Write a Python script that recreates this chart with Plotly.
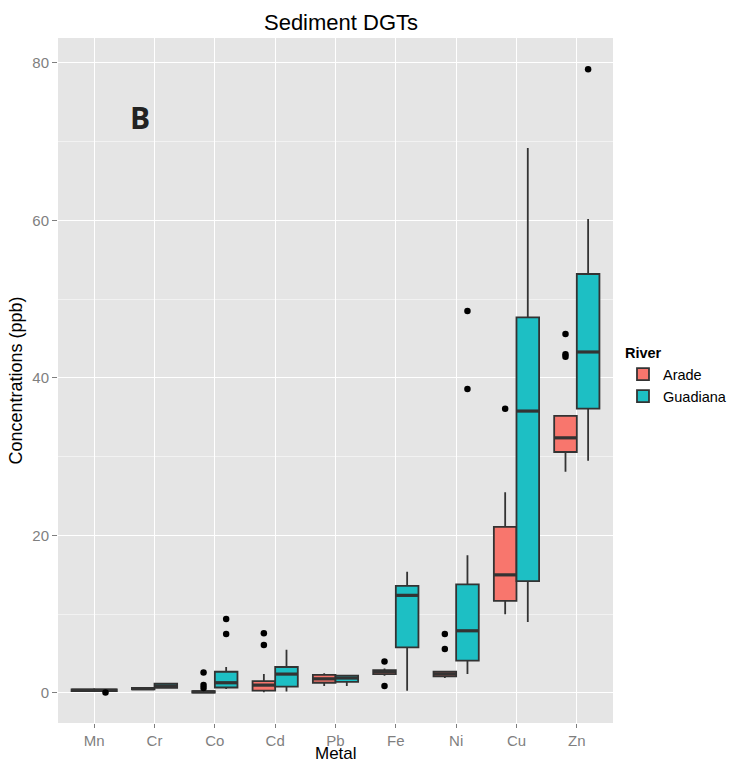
import plotly.graph_objects as go

metals = ["Mn", "Cr", "Co", "Cd", "Pb", "Fe", "Ni", "Cu", "Zn"]

# Arade box statistics
arade_lf = [0.2, 0.35, 0.0, 0.1, 0.9, 2.2, 1.9, 10.0, 28.1]
arade_q1 = [0.25, 0.45, 0.05, 0.3, 1.3, 2.4, 2.1, 11.7, 30.6]
arade_med = [0.35, 0.55, 0.15, 1.0, 1.8, 2.7, 2.4, 15.0, 32.4]
arade_q3 = [0.45, 0.65, 0.25, 1.5, 2.3, 2.9, 2.7, 21.1, 35.2]
arade_uf = [0.5, 0.7, 0.3, 2.4, 2.5, 3.1, 2.8, 25.5, 35.3]
arade_out_metal = ["Co", "Co", "Co", "Cd", "Cd", "Fe", "Fe", "Ni", "Ni", "Cu", "Zn", "Zn", "Zn"]
arade_out_val = [2.6, 1.0, 0.65, 7.6, 6.1, 4.0, 0.9, 7.5, 5.6, 36.1, 45.6, 43.0, 42.7]

# Guadiana box statistics
guad_lf = [0.2, 0.6, 0.5, 0.2, 0.9, 0.3, 2.4, 9.0, 29.5]
guad_q1 = [0.25, 0.65, 0.7, 0.8, 1.4, 5.8, 4.1, 14.2, 36.1]
guad_med = [0.35, 0.9, 1.3, 2.4, 1.9, 12.4, 7.9, 35.8, 43.3]
guad_q3 = [0.45, 1.2, 2.7, 3.3, 2.2, 13.6, 13.8, 47.7, 53.2]
guad_uf = [0.5, 1.3, 3.3, 5.5, 2.3, 15.4, 17.5, 69.2, 60.2]
guad_out_metal = ["Mn", "Co", "Co", "Ni", "Ni", "Zn"]
guad_out_val = [0.05, 9.4, 7.5, 48.5, 38.6, 79.2]

y_ticks = [0, 20, 40, 60, 80]

dodge = 0.1875
bw = 0.375
pos = {m: i + 1 for i, m in enumerate(metals)}

fig = go.Figure()

series = [
    ("Arade", "#F8766D", -dodge, arade_lf, arade_q1, arade_med, arade_q3, arade_uf,
     arade_out_metal, arade_out_val),
    ("Guadiana", "#1DBFC4", dodge, guad_lf, guad_q1, guad_med, guad_q3, guad_uf,
     guad_out_metal, guad_out_val),
]

for name, col, off, lf, q1, med, q3, uf, om, ov in series:
    fig.add_trace(go.Box(
        name=name,
        x=[pos[m] + off for m in metals],
        lowerfence=lf, q1=q1, median=med, q3=q3, upperfence=uf,
        width=bw,
        fillcolor=col,
        line=dict(color="#333333", width=1.8),
        whiskerwidth=0,
        boxpoints=False,
        hoverinfo="skip",
    ))

# thicker median bars (ggplot style)
for name, col, off, lf, q1, med, q3, uf, om, ov in series:
    mx, my = [], []
    for m, v in zip(metals, med):
        c = pos[m] + off
        mx += [c - bw / 2, c + bw / 2, None]
        my += [v, v, None]
    fig.add_trace(go.Scatter(
        x=mx, y=my, mode="lines",
        line=dict(color="#333333", width=3.2),
        showlegend=False, hoverinfo="skip",
    ))

for name, col, off, lf, q1, med, q3, uf, om, ov in series:
    fig.add_trace(go.Scatter(
        x=[pos[m] + off for m in om],
        y=ov,
        mode="markers",
        marker=dict(color="black", size=6.5),
        showlegend=False,
        hoverinfo="skip",
    ))

fig.add_annotation(
    x=(142 - 58) / 566, y=(723 - 118) / 685, xref="paper", yref="paper",
    xanchor="center", yanchor="middle",
    text="<b>B</b>", showarrow=False,
    font=dict(family="Open Sans, DejaVu Sans, sans-serif", size=30, color="#222222"),
)

# x-axis title placed as annotation near the bottom edge, as in the reference
fig.add_annotation(
    x=0.5, y=(723 - 765) / 685, xref="paper", yref="paper",
    xanchor="center", yanchor="bottom",
    text="Metal", showarrow=False,
    font=dict(size=17, color="black"),
)

fig.update_layout(
    width=744, height=766,
    margin=dict(l=58, r=120, t=38, b=43),
    paper_bgcolor="white",
    plot_bgcolor="#E5E5E5",
    boxmode="overlay",
    font=dict(family="Liberation Sans, Arial, sans-serif"),
    title=dict(text="Sediment DGTs", x=(341 / 744), xanchor="center",
               yref="container", y=1 - 22 / 766, yanchor="middle",
               font=dict(size=22, color="black")),
    legend=dict(
        title=dict(text="<b>River</b>", font=dict(size=14.5, color="black")),
        font=dict(size=14.5, color="black"),
        x=1.018, xanchor="left", y=0.56, yanchor="top",
        bgcolor="white", tracegroupgap=2,
    ),
    xaxis=dict(
        range=[0.4, 9.6],
        tickmode="array", tickvals=list(range(1, len(metals) + 1)), ticktext=metals,
        showgrid=True, gridcolor="white", gridwidth=1.2,
        zeroline=False,
        ticks="outside", ticklen=4, tickcolor="#7F7F7F", tickwidth=1,
        tickfont=dict(size=15, color="#7F7F7F"),
        automargin=False,
    ),
    yaxis=dict(
        range=[-3.81, 83.17],
        tickmode="array", tickvals=y_ticks,
        showgrid=True, gridcolor="white", gridwidth=1.2,
        minor=dict(dtick=10, showgrid=True, gridcolor="#F2F2F2", gridwidth=0.6),
        zeroline=False,
        ticks="outside", ticklen=5, tickcolor="#7F7F7F", tickwidth=1,
        tickfont=dict(size=15, color="#7F7F7F"),
        title=dict(text="Concentrations (ppb)", font=dict(size=18, color="black"), standoff=5),
        automargin=False,
    ),
)

# remove the browser's default 8px body margin so the figure sits at the page origin
fig.write_html(
    "out.html",
    config={"displayModeBar": False},
    post_script="document.body.style.margin='0';document.body.style.overflow='hidden';",
)
